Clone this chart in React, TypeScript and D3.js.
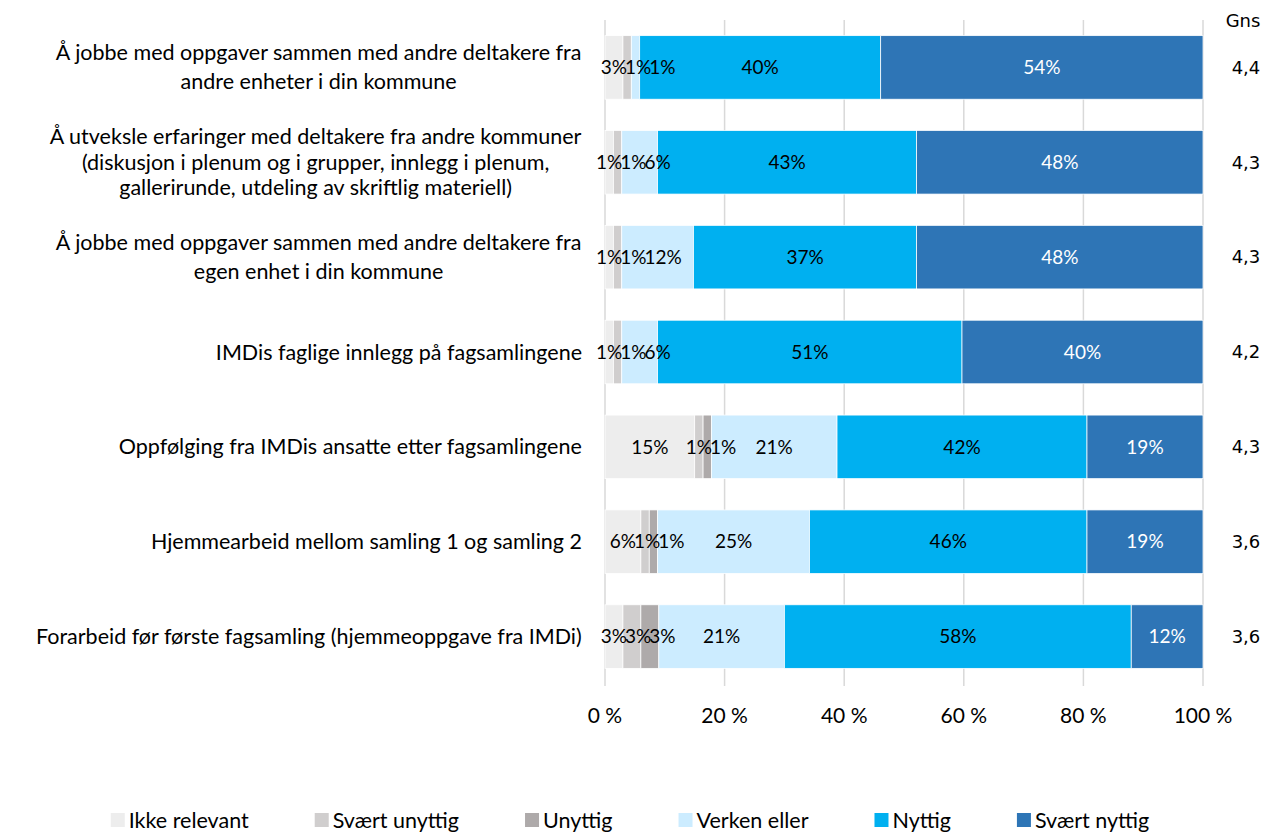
import React, { useEffect, useRef } from 'react';
import * as d3 from 'd3';

const categories = [
  ['Å jobbe med oppgaver sammen med andre deltakere fra', 'andre enheter i din kommune'],
  ['Å utveksle erfaringer med deltakere fra andre kommuner', '(diskusjon i plenum og i grupper, innlegg i plenum,', 'gallerirunde, utdeling av skriftlig materiell)'],
  ['Å jobbe med oppgaver sammen med andre deltakere fra', 'egen enhet i din kommune'],
  ['IMDis faglige innlegg på fagsamlingene'],
  ['Oppfølging fra IMDis ansatte etter fagsamlingene'],
  ['Hjemmearbeid mellom samling 1 og samling 2'],
  ['Forarbeid før første fagsamling (hjemmeoppgave fra IMDi)'],
];

const seriesNames = ['Ikke relevant', 'Svært unyttig', 'Unyttig', 'Verken eller', 'Nyttig', 'Svært nyttig'];
const seriesColors = ['#EDEDED', '#D0CECE', '#AEAAAA', '#CCECFF', '#00B0F0', '#2E75B6'];

// percent per category, in series order
const ikkeRelevant = [3, 1.4, 1.4, 1.4, 15, 6, 3];
const sværtUnyttig = [1.4, 1.4, 1.4, 1.4, 1.4, 1.4, 3];
const unyttig = [0, 0, 0, 0, 1.4, 1.4, 3];
const verken = [1.4, 6, 12, 6, 21, 25.4, 21];
const nyttig = [40.3, 43.3, 37.3, 50.9, 41.8, 46.4, 58];
const sværtNyttig = [53.9, 47.9, 47.9, 40.3, 19.4, 19.4, 12];

const gns = ['4,4', '4,3', '4,3', '4,2', '4,3', '3,6', '3,6'];
const xTicks = [0, 20, 40, 60, 80, 100];

const FONT = 'Lato, "Open Sans", sans-serif';
const GNS_FONT = '"DejaVu Sans", Verdana, sans-serif';

const canvas = document.createElement('canvas');
const ctx = canvas.getContext('2d')!;
const measure = (t: string, size: number) => {
  ctx.font = `${size}px Lato`;
  return ctx.measureText(t).width;
};

export default function App() {
  const ref = useRef<SVGSVGElement>(null);

  useEffect(() => {
    const svg = d3.select(ref.current);
    svg.selectAll('*').remove();

    const W = 1280, H = 832;
    const margin = { top: 20, left: 605, right: 77, bottom: 148 };
    const x = d3.scaleLinear().domain([0, 100]).range([margin.left, W - margin.right]);
    const y = d3.scaleBand<number>()
      .domain(d3.range(categories.length))
      .range([margin.top, H - margin.bottom])
      .paddingInner(0.33)
      .paddingOuter(0.165);

    const table = categories.map((_, i) => ({
      i,
      vals: [ikkeRelevant[i], sværtUnyttig[i], unyttig[i], verken[i], nyttig[i], sværtNyttig[i]],
    }));

    // gridlines
    svg.append('g').selectAll('line').data(xTicks).enter().append('line')
      .attr('x1', d => x(d)).attr('x2', d => x(d))
      .attr('y1', margin.top).attr('y2', H - margin.bottom + 2)
      .attr('stroke', '#D9D9D9').attr('stroke-width', 1.5);

    // x tick labels
    svg.append('g').selectAll('text').data(xTicks).enter().append('text')
      .attr('x', d => x(d)).attr('y', 723)
      .attr('text-anchor', 'middle')
      .attr('font-family', FONT).attr('font-size', 21).attr('fill', '#000')
      .text(d => `${d} %`);

    const rows = svg.append('g').selectAll('g').data(table).enter().append('g');

    rows.each(function (row) {
      const g = d3.select(this);
      let acc = 0;
      const segs = row.vals.map((v, k) => {
        const s = { k, v, x0: acc, x1: acc + v };
        acc += v;
        return s;
      });
      g.selectAll('rect').data(segs.filter(s => s.v > 0)).enter().append('rect')
        .attr('x', s => x(s.x0))
        .attr('width', s => x(s.x1) - x(s.x0))
        .attr('y', y(row.i)!)
        .attr('height', y.bandwidth())
        .attr('fill', s => seriesColors[s.k])
        .attr('stroke', '#fff').attr('stroke-width', 0.75);

      // labels, pushed right where they would collide
      const labs = segs.filter(s => s.v > 0).map(s => {
        const t = `${Math.round(s.v)}%`;
        const w = measure(t, 19);
        return { ...s, t, w, cx: x((s.x0 + s.x1) / 2) };
      });
      let right = -Infinity;
      labs.forEach(l => {
        let left = l.cx - l.w / 2;
        if (left < right - 2) left = right - 2;
        l.cx = left + l.w / 2;
        right = left + l.w;
      });
      g.selectAll('text.lab').data(labs).enter().append('text')
        .attr('class', 'lab')
        .attr('x', l => l.cx)
        .attr('y', y(row.i)! + y.bandwidth() / 2)
        .attr('dy', '0.35em')
        .attr('text-anchor', 'middle')
        .attr('font-family', FONT).attr('font-size', 19)
        .attr('fill', l => (l.k === 5 ? '#fff' : '#000'))
        .text(l => l.t);
    });

    // category labels
    categories.forEach((lines, i) => {
      const lineH = lines.length > 2 ? 25.5 : 29;
      const maxW = d3.max(lines, l => measure(l, 21.5))!;
      const cx = 582 - maxW / 2;
      const cy = y(i)! + y.bandwidth() / 2;
      lines.forEach((l, j) => {
        svg.append('text')
          .attr('x', cx)
          .attr('y', cy + (j - (lines.length - 1) / 2) * lineH)
          .attr('dy', '0.35em')
          .attr('text-anchor', 'middle')
          .attr('font-family', FONT).attr('font-size', 21.5).attr('fill', '#000')
          .text(l);
      });
    });

    // Gns column
    svg.append('text')
      .attr('x', 1243).attr('y', 27)
      .attr('text-anchor', 'middle')
      .attr('font-family', GNS_FONT).attr('font-size', 18).text('Gns');
    svg.append('g').selectAll('text').data(gns).enter().append('text')
      .attr('x', 1246)
      .attr('y', (_, i) => y(i)! + y.bandwidth() / 2)
      .attr('dy', '0.35em')
      .attr('text-anchor', 'middle')
      .attr('font-family', GNS_FONT).attr('font-size', 18)
      .text(d => d);

    // legend
    const sw = 14, gapSym = 4, gapItem = 66;
    const widths = seriesNames.map(n => sw + gapSym + measure(n, 21.5));
    const total = d3.sum(widths) + gapItem * (seriesNames.length - 1);
    let lx = (W - total) / 2 - 10;
    const ly = 820;
    seriesNames.forEach((n, k) => {
      svg.append('rect')
        .attr('x', lx).attr('y', ly - sw / 2)
        .attr('width', sw).attr('height', sw)
        .attr('fill', seriesColors[k]);
      svg.append('text')
        .attr('x', lx + sw + gapSym).attr('y', ly)
        .attr('dy', '0.35em')
        .attr('font-family', FONT).attr('font-size', 21.5)
        .text(n);
      lx += widths[k] + gapItem;
    });
  }, []);

  return (
    <svg ref={ref} width={1280} height={832}
      style={{ position: 'absolute', left: 0, top: 0, background: '#fff' }} />
  );
}
